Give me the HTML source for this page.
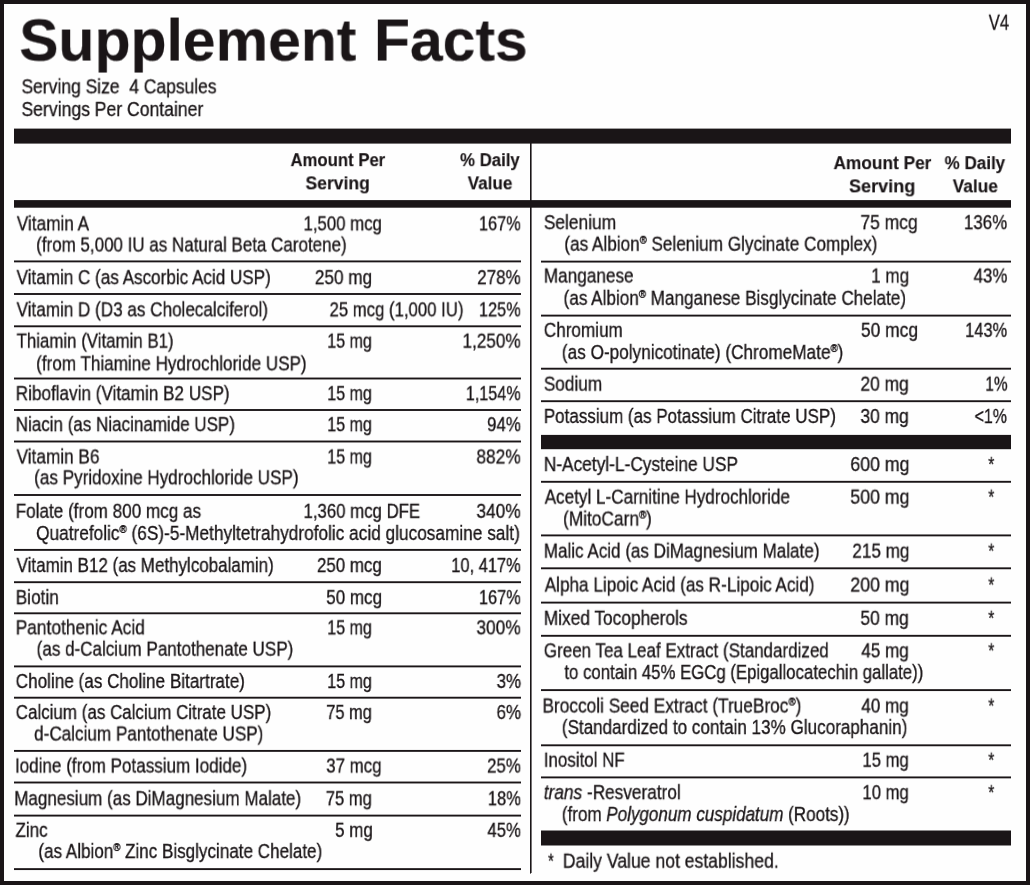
<!DOCTYPE html>
<html><head><meta charset="utf-8"><title>Supplement Facts</title>
<style>
html,body{margin:0;padding:0;background:#fefefe;}
body{width:1030px;height:885px;position:relative;overflow:hidden;
 font-family:"Liberation Sans",sans-serif;color:#1a1517;}
.t{position:absolute;left:0;top:0;white-space:nowrap;transform-origin:0 0;display:block;will-change:transform;-webkit-text-stroke:0.3px #1a1517;}
.b{font-weight:bold;-webkit-text-stroke:0.15px #1a1517;}
.r{position:absolute;background:#1a1517;}
#w{position:absolute;left:0;top:0;width:1030px;height:885px;will-change:transform;background:#fefefe;}
sup{font-size:56%;vertical-align:baseline;position:relative;top:-0.64em;line-height:0;-webkit-text-stroke:0.45px #1a1517;}
i{font-style:italic;}
</style></head>
<body>
<div id="w">
<div class="r" style="left:0px;top:0px;width:1030px;height:4px"></div>
<div class="r" style="left:0px;top:881px;width:1030px;height:4px"></div>
<div class="r" style="left:0px;top:0px;width:4px;height:885px"></div>
<div class="r" style="left:1026px;top:0px;width:4px;height:885px"></div>
<div class="r" style="left:530px;top:143px;width:1px;height:730px"></div>
<div class="r" style="left:531px;top:143px;width:1px;height:730px;background:rgba(26,21,23,0.60)"></div>
<div class="r" style="left:14px;top:128px;width:997px;height:1px;opacity:0.40"></div><div class="r" style="left:14px;top:129px;width:997px;height:14px"></div><div class="r" style="left:14px;top:143px;width:997px;height:1px;opacity:0.60"></div>
<div class="r" style="left:14px;top:200px;width:997px;height:1px;opacity:0.90"></div><div class="r" style="left:14px;top:201px;width:997px;height:6px"></div><div class="r" style="left:14px;top:207px;width:997px;height:1px;opacity:0.70"></div>
<div class="r" style="left:541px;top:434px;width:470px;height:1px;opacity:0.10"></div><div class="r" style="left:541px;top:435px;width:470px;height:14px"></div><div class="r" style="left:541px;top:449px;width:470px;height:1px;opacity:0.20"></div>
<div class="r" style="left:541px;top:830px;width:470px;height:1px;opacity:0.50"></div><div class="r" style="left:541px;top:831px;width:470px;height:14px"></div><div class="r" style="left:541px;top:845px;width:470px;height:1px;opacity:0.50"></div>
<div class="r" style="left:530px;top:873px;width:1px;height:1px;opacity:0.60"></div>
<div class="r" style="left:14px;top:260px;width:507px;height:1px;opacity:0.55"></div><div class="r" style="left:14px;top:261px;width:507px;height:1px"></div><div class="r" style="left:14px;top:262px;width:507px;height:1px;opacity:0.35"></div>
<div class="r" style="left:14px;top:293px;width:507px;height:1px;opacity:0.95"></div><div class="r" style="left:14px;top:294px;width:507px;height:1px;opacity:0.95"></div>
<div class="r" style="left:14px;top:325px;width:507px;height:1px;opacity:0.65"></div><div class="r" style="left:14px;top:326px;width:507px;height:1px"></div><div class="r" style="left:14px;top:327px;width:507px;height:1px;opacity:0.25"></div>
<div class="r" style="left:14px;top:377px;width:507px;height:1px;opacity:0.45"></div><div class="r" style="left:14px;top:378px;width:507px;height:1px"></div><div class="r" style="left:14px;top:379px;width:507px;height:1px;opacity:0.45"></div>
<div class="r" style="left:14px;top:409px;width:507px;height:1px;opacity:0.95"></div><div class="r" style="left:14px;top:410px;width:507px;height:1px;opacity:0.95"></div>
<div class="r" style="left:14px;top:440px;width:507px;height:1px;opacity:0.45"></div><div class="r" style="left:14px;top:441px;width:507px;height:1px"></div><div class="r" style="left:14px;top:442px;width:507px;height:1px;opacity:0.45"></div>
<div class="r" style="left:14px;top:494px;width:507px;height:1px;opacity:0.95"></div><div class="r" style="left:14px;top:495px;width:507px;height:1px;opacity:0.95"></div>
<div class="r" style="left:14px;top:548px;width:507px;height:1px;opacity:0.05"></div><div class="r" style="left:14px;top:549px;width:507px;height:1px"></div><div class="r" style="left:14px;top:550px;width:507px;height:1px;opacity:0.85"></div>
<div class="r" style="left:14px;top:581px;width:507px;height:1px;opacity:0.75"></div><div class="r" style="left:14px;top:582px;width:507px;height:1px"></div><div class="r" style="left:14px;top:583px;width:507px;height:1px;opacity:0.15"></div>
<div class="r" style="left:14px;top:612px;width:507px;height:1px;opacity:0.65"></div><div class="r" style="left:14px;top:613px;width:507px;height:1px"></div><div class="r" style="left:14px;top:614px;width:507px;height:1px;opacity:0.25"></div>
<div class="r" style="left:14px;top:665px;width:507px;height:1px;opacity:0.55"></div><div class="r" style="left:14px;top:666px;width:507px;height:1px"></div><div class="r" style="left:14px;top:667px;width:507px;height:1px;opacity:0.35"></div>
<div class="r" style="left:14px;top:696px;width:507px;height:1px;opacity:0.25"></div><div class="r" style="left:14px;top:697px;width:507px;height:1px"></div><div class="r" style="left:14px;top:698px;width:507px;height:1px;opacity:0.65"></div>
<div class="r" style="left:14px;top:749px;width:507px;height:1px;opacity:0.05"></div><div class="r" style="left:14px;top:750px;width:507px;height:1px"></div><div class="r" style="left:14px;top:751px;width:507px;height:1px;opacity:0.85"></div>
<div class="r" style="left:14px;top:781px;width:507px;height:1px;opacity:0.45"></div><div class="r" style="left:14px;top:782px;width:507px;height:1px"></div><div class="r" style="left:14px;top:783px;width:507px;height:1px;opacity:0.45"></div>
<div class="r" style="left:14px;top:814px;width:507px;height:1px;opacity:0.35"></div><div class="r" style="left:14px;top:815px;width:507px;height:1px"></div><div class="r" style="left:14px;top:816px;width:507px;height:1px;opacity:0.55"></div>
<div class="r" style="left:14px;top:868px;width:507px;height:1px;opacity:0.85"></div><div class="r" style="left:14px;top:869px;width:507px;height:1px"></div><div class="r" style="left:14px;top:870px;width:507px;height:1px;opacity:0.05"></div>
<div class="r" style="left:541px;top:260px;width:470px;height:1px;opacity:0.35"></div><div class="r" style="left:541px;top:261px;width:470px;height:1px"></div><div class="r" style="left:541px;top:262px;width:470px;height:1px;opacity:0.55"></div>
<div class="r" style="left:541px;top:314px;width:470px;height:1px;opacity:0.35"></div><div class="r" style="left:541px;top:315px;width:470px;height:1px"></div><div class="r" style="left:541px;top:316px;width:470px;height:1px;opacity:0.55"></div>
<div class="r" style="left:541px;top:367px;width:470px;height:1px;opacity:0.25"></div><div class="r" style="left:541px;top:368px;width:470px;height:1px"></div><div class="r" style="left:541px;top:369px;width:470px;height:1px;opacity:0.65"></div>
<div class="r" style="left:541px;top:400px;width:470px;height:1px;opacity:0.75"></div><div class="r" style="left:541px;top:401px;width:470px;height:1px"></div><div class="r" style="left:541px;top:402px;width:470px;height:1px;opacity:0.15"></div>
<div class="r" style="left:541px;top:480px;width:470px;height:1px;opacity:0.15"></div><div class="r" style="left:541px;top:481px;width:470px;height:1px"></div><div class="r" style="left:541px;top:482px;width:470px;height:1px;opacity:0.75"></div>
<div class="r" style="left:541px;top:534px;width:470px;height:1px;opacity:0.55"></div><div class="r" style="left:541px;top:535px;width:470px;height:1px"></div><div class="r" style="left:541px;top:536px;width:470px;height:1px;opacity:0.35"></div>
<div class="r" style="left:541px;top:567px;width:470px;height:1px;opacity:0.65"></div><div class="r" style="left:541px;top:568px;width:470px;height:1px"></div><div class="r" style="left:541px;top:569px;width:470px;height:1px;opacity:0.25"></div>
<div class="r" style="left:541px;top:601px;width:470px;height:1px;opacity:0.35"></div><div class="r" style="left:541px;top:602px;width:470px;height:1px"></div><div class="r" style="left:541px;top:603px;width:470px;height:1px;opacity:0.55"></div>
<div class="r" style="left:541px;top:634px;width:470px;height:1px;opacity:0.15"></div><div class="r" style="left:541px;top:635px;width:470px;height:1px"></div><div class="r" style="left:541px;top:636px;width:470px;height:1px;opacity:0.75"></div>
<div class="r" style="left:541px;top:689px;width:470px;height:1px;opacity:0.85"></div><div class="r" style="left:541px;top:690px;width:470px;height:1px"></div><div class="r" style="left:541px;top:691px;width:470px;height:1px;opacity:0.05"></div>
<div class="r" style="left:541px;top:744px;width:470px;height:1px;opacity:0.65"></div><div class="r" style="left:541px;top:745px;width:470px;height:1px"></div><div class="r" style="left:541px;top:746px;width:470px;height:1px;opacity:0.25"></div>
<div class="r" style="left:541px;top:776px;width:470px;height:1px;opacity:0.55"></div><div class="r" style="left:541px;top:777px;width:470px;height:1px"></div><div class="r" style="left:541px;top:778px;width:470px;height:1px;opacity:0.35"></div>
<div class="t b" style="font-size:59.00px;line-height:71px;transform:translate(19.20px,5.55px) scaleX(0.9985)">Supplement</div>
<div class="t b" style="font-size:59.00px;line-height:71px;transform:translate(374.01px,5.55px) scaleX(0.9973)">Facts</div>
<div class="t" style="font-size:19.30px;line-height:23px;transform:translate(21.49px,75.35px) scaleX(0.9056)">Serving Size&nbsp; 4 Capsules</div>
<div class="t" style="font-size:19.30px;line-height:23px;transform:translate(21.49px,98.05px) scaleX(0.9116)">Servings Per Container</div>
<div class="t" style="font-size:22.50px;line-height:27px;transform:translate(988.70px,8.75px) scaleX(0.7407)">V4</div>
<div class="t b" style="font-size:18.80px;line-height:23px;transform:translate(290.50px,148.15px) scaleX(0.8896)">Amount Per</div>
<div class="t b" style="font-size:18.80px;line-height:23px;transform:translate(305.47px,171.35px) scaleX(0.9328)">Serving</div>
<div class="t b" style="font-size:18.80px;line-height:23px;transform:translate(460.00px,148.15px) scaleX(0.8940)">% Daily</div>
<div class="t b" style="font-size:18.80px;line-height:23px;transform:translate(467.70px,171.35px) scaleX(0.9082)">Value</div>
<div class="t b" style="font-size:18.80px;line-height:23px;transform:translate(833.50px,151.15px) scaleX(0.9198)">Amount Per</div>
<div class="t b" style="font-size:18.80px;line-height:23px;transform:translate(848.94px,174.35px) scaleX(0.9627)">Serving</div>
<div class="t b" style="font-size:18.80px;line-height:23px;transform:translate(944.60px,151.15px) scaleX(0.9060)">% Daily</div>
<div class="t b" style="font-size:18.80px;line-height:23px;transform:translate(952.70px,174.35px) scaleX(0.9184)">Value</div>
<div class="t" style="font-size:19.30px;line-height:23px;transform:translate(16.80px,212.35px) scaleX(0.8914)">Vitamin A</div>
<div class="t" style="font-size:19.30px;line-height:23px;transform:translate(303.53px,212.35px) scaleX(0.8705)">1,500 mcg</div>
<div class="t" style="font-size:19.30px;line-height:23px;transform:translate(478.96px,212.35px) scaleX(0.8438)">167%</div>
<div class="t" style="font-size:19.30px;line-height:23px;transform:translate(16.60px,266.15px) scaleX(0.8860)">Vitamin C (as Ascorbic Acid USP)</div>
<div class="t" style="font-size:19.30px;line-height:23px;transform:translate(314.81px,266.15px) scaleX(0.8919)">250 mg</div>
<div class="t" style="font-size:19.30px;line-height:23px;transform:translate(477.22px,266.15px) scaleX(0.8792)">278%</div>
<div class="t" style="font-size:19.30px;line-height:23px;transform:translate(16.60px,298.35px) scaleX(0.8862)">Vitamin D (D3 as Cholecalciferol)</div>
<div class="t" style="font-size:19.30px;line-height:23px;transform:translate(329.53px,298.35px) scaleX(0.8678)">25 mcg (1,000 IU)</div>
<div class="t" style="font-size:19.30px;line-height:23px;transform:translate(478.96px,298.35px) scaleX(0.8438)">125%</div>
<div class="t" style="font-size:19.30px;line-height:23px;transform:translate(16.60px,329.65px) scaleX(0.8737)">Thiamin (Vitamin B1)</div>
<div class="t" style="font-size:19.30px;line-height:23px;transform:translate(327.27px,329.65px) scaleX(0.8327)">15 mg</div>
<div class="t" style="font-size:19.30px;line-height:23px;transform:translate(462.51px,329.65px) scaleX(0.8891)">1,250%</div>
<div class="t" style="font-size:19.30px;line-height:23px;transform:translate(15.71px,382.15px) scaleX(0.8887)">Riboflavin (Vitamin B2 USP)</div>
<div class="t" style="font-size:19.30px;line-height:23px;transform:translate(327.27px,382.15px) scaleX(0.8327)">15 mg</div>
<div class="t" style="font-size:19.30px;line-height:23px;transform:translate(465.86px,382.15px) scaleX(0.8375)">1,154%</div>
<div class="t" style="font-size:19.30px;line-height:23px;transform:translate(15.72px,413.15px) scaleX(0.8818)">Niacin (as Niacinamide USP)</div>
<div class="t" style="font-size:19.30px;line-height:23px;transform:translate(327.27px,413.15px) scaleX(0.8327)">15 mg</div>
<div class="t" style="font-size:19.30px;line-height:23px;transform:translate(487.02px,413.15px) scaleX(0.8757)">94%</div>
<div class="t" style="font-size:19.30px;line-height:23px;transform:translate(16.60px,445.45px) scaleX(0.8913)">Vitamin B6</div>
<div class="t" style="font-size:19.30px;line-height:23px;transform:translate(327.27px,445.45px) scaleX(0.8327)">15 mg</div>
<div class="t" style="font-size:19.30px;line-height:23px;transform:translate(476.40px,445.45px) scaleX(0.8958)">882%</div>
<div class="t" style="font-size:19.30px;line-height:23px;transform:translate(15.71px,499.85px) scaleX(0.8874)">Folate (from 800 mcg as</div>
<div class="t" style="font-size:19.30px;line-height:23px;transform:translate(303.53px,499.85px) scaleX(0.8705)">1,360 mcg DFE</div>
<div class="t" style="font-size:19.30px;line-height:23px;transform:translate(476.40px,499.85px) scaleX(0.8958)">340%</div>
<div class="t" style="font-size:19.30px;line-height:23px;transform:translate(16.60px,554.05px) scaleX(0.8801)">Vitamin B12 (as Methylcobalamin)</div>
<div class="t" style="font-size:19.30px;line-height:23px;transform:translate(316.92px,554.05px) scaleX(0.8778)">250 mcg</div>
<div class="t" style="font-size:19.30px;line-height:23px;transform:translate(451.25px,554.05px) scaleX(0.8525)">10, 417%</div>
<div class="t" style="font-size:19.30px;line-height:23px;transform:translate(15.71px,586.15px) scaleX(0.8935)">Biotin</div>
<div class="t" style="font-size:19.30px;line-height:23px;transform:translate(326.22px,586.15px) scaleX(0.8836)">50 mcg</div>
<div class="t" style="font-size:19.30px;line-height:23px;transform:translate(478.96px,586.15px) scaleX(0.8438)">167%</div>
<div class="t" style="font-size:19.30px;line-height:23px;transform:translate(15.70px,616.35px) scaleX(0.8986)">Pantothenic Acid</div>
<div class="t" style="font-size:19.30px;line-height:23px;transform:translate(327.27px,616.35px) scaleX(0.8327)">15 mg</div>
<div class="t" style="font-size:19.30px;line-height:23px;transform:translate(476.40px,616.35px) scaleX(0.8958)">300%</div>
<div class="t" style="font-size:19.30px;line-height:23px;transform:translate(15.71px,669.95px) scaleX(0.8875)">Choline (as Choline Bitartrate)</div>
<div class="t" style="font-size:19.30px;line-height:23px;transform:translate(327.27px,669.95px) scaleX(0.8327)">15 mg</div>
<div class="t" style="font-size:19.30px;line-height:23px;transform:translate(496.62px,669.95px) scaleX(0.8769)">3%</div>
<div class="t" style="font-size:19.30px;line-height:23px;transform:translate(15.72px,701.05px) scaleX(0.8799)">Calcium (as Calcium Citrate USP)</div>
<div class="t" style="font-size:19.30px;line-height:23px;transform:translate(326.25px,701.05px) scaleX(0.8519)">75 mg</div>
<div class="t" style="font-size:19.30px;line-height:23px;transform:translate(496.52px,701.05px) scaleX(0.8808)">6%</div>
<div class="t" style="font-size:19.30px;line-height:23px;transform:translate(15.02px,754.55px) scaleX(0.8835)">Iodine (from Potassium Iodide)</div>
<div class="t" style="font-size:19.30px;line-height:23px;transform:translate(326.22px,754.55px) scaleX(0.8754)">37 mcg</div>
<div class="t" style="font-size:19.30px;line-height:23px;transform:translate(487.02px,754.55px) scaleX(0.8757)">25%</div>
<div class="t" style="font-size:19.30px;line-height:23px;transform:translate(14.22px,787.25px) scaleX(0.8836)">Magnesium (as DiMagnesium Malate)</div>
<div class="t" style="font-size:19.30px;line-height:23px;transform:translate(325.74px,787.25px) scaleX(0.8615)">75 mg</div>
<div class="t" style="font-size:19.30px;line-height:23px;transform:translate(487.85px,787.25px) scaleX(0.8541)">18%</div>
<div class="t" style="font-size:19.30px;line-height:23px;transform:translate(15.50px,818.85px) scaleX(0.8833)">Zinc</div>
<div class="t" style="font-size:19.30px;line-height:23px;transform:translate(335.12px,818.85px) scaleX(0.8780)">5 mg</div>
<div class="t" style="font-size:19.30px;line-height:23px;transform:translate(487.40px,818.85px) scaleX(0.8658)">45%</div>
<div class="t" style="font-size:19.30px;line-height:23px;transform:translate(36.12px,233.55px) scaleX(0.8806)">(from 5,000 IU as Natural Beta Carotene)</div>
<div class="t" style="font-size:19.30px;line-height:23px;transform:translate(36.11px,352.35px) scaleX(0.8868)">(from Thiamine Hydrochloride USP)</div>
<div class="t" style="font-size:19.30px;line-height:23px;transform:translate(34.11px,466.35px) scaleX(0.8878)">(as Pyridoxine Hydrochloride USP)</div>
<div class="t" style="font-size:19.30px;line-height:23px;transform:translate(36.11px,521.95px) scaleX(0.8948)">Quatrefolic<sup>&reg;</sup> (6S)-5-Methyltetrahydrofolic acid glucosamine salt)</div>
<div class="t" style="font-size:19.30px;line-height:23px;transform:translate(36.62px,637.75px) scaleX(0.8837)">(as d-Calcium Pantothenate USP)</div>
<div class="t" style="font-size:19.30px;line-height:23px;transform:translate(34.11px,722.55px) scaleX(0.8875)">d-Calcium Pantothenate USP)</div>
<div class="t" style="font-size:19.30px;line-height:23px;transform:translate(38.32px,840.05px) scaleX(0.8846)">(as Albion<sup>&reg;</sup> Zinc Bisglycinate Chelate)</div>
<div class="t" style="font-size:19.30px;line-height:23px;transform:translate(543.80px,211.15px) scaleX(0.9013)">Selenium</div>
<div class="t" style="font-size:19.30px;line-height:23px;transform:translate(860.39px,211.15px) scaleX(0.9066)">75 mcg</div>
<div class="t" style="font-size:19.30px;line-height:23px;transform:translate(963.92px,211.15px) scaleX(0.8750)">136%</div>
<div class="t" style="font-size:19.30px;line-height:23px;transform:translate(543.81px,264.55px) scaleX(0.8909)">Manganese</div>
<div class="t" style="font-size:19.30px;line-height:23px;transform:translate(871.22px,264.55px) scaleX(0.8829)">1 mg</div>
<div class="t" style="font-size:19.30px;line-height:23px;transform:translate(973.60px,264.55px) scaleX(0.8737)">43%</div>
<div class="t" style="font-size:19.30px;line-height:23px;transform:translate(543.81px,318.85px) scaleX(0.8885)">Chromium</div>
<div class="t" style="font-size:19.30px;line-height:23px;transform:translate(860.90px,318.85px) scaleX(0.9049)">50 mcg</div>
<div class="t" style="font-size:19.30px;line-height:23px;transform:translate(965.15px,318.85px) scaleX(0.8500)">143%</div>
<div class="t" style="font-size:19.30px;line-height:23px;transform:translate(543.81px,372.65px) scaleX(0.8937)">Sodium</div>
<div class="t" style="font-size:19.30px;line-height:23px;transform:translate(860.40px,372.65px) scaleX(0.9038)">20 mg</div>
<div class="t" style="font-size:19.30px;line-height:23px;transform:translate(985.41px,372.65px) scaleX(0.7923)">1%</div>
<div class="t" style="font-size:19.30px;line-height:23px;transform:translate(543.82px,404.95px) scaleX(0.8821)">Potassium (as Potassium Citrate USP)</div>
<div class="t" style="font-size:19.30px;line-height:23px;transform:translate(860.40px,404.95px) scaleX(0.9038)">30 mg</div>
<div class="t" style="font-size:19.30px;line-height:23px;transform:translate(974.57px,404.95px) scaleX(0.8263)">&lt;1%</div>
<div class="t" style="font-size:19.30px;line-height:23px;transform:translate(543.80px,453.05px) scaleX(0.8972)">N-Acetyl-L-Cysteine USP</div>
<div class="t" style="font-size:19.30px;line-height:23px;transform:translate(850.28px,453.05px) scaleX(0.9210)">600 mg</div>
<div class="t" style="font-size:19.30px;line-height:23px;transform:translate(988.20px,453.05px) scaleX(0.8143)">*</div>
<div class="t" style="font-size:19.30px;line-height:23px;transform:translate(544.70px,485.65px) scaleX(0.8870)">Acetyl L-Carnitine Hydrochloride</div>
<div class="t" style="font-size:19.30px;line-height:23px;transform:translate(850.28px,485.65px) scaleX(0.9210)">500 mg</div>
<div class="t" style="font-size:19.30px;line-height:23px;transform:translate(988.20px,485.65px) scaleX(0.8143)">*</div>
<div class="t" style="font-size:19.30px;line-height:23px;transform:translate(543.82px,539.65px) scaleX(0.8839)">Malic Acid (as DiMagnesium Malate)</div>
<div class="t" style="font-size:19.30px;line-height:23px;transform:translate(852.31px,539.65px) scaleX(0.8887)">215 mg</div>
<div class="t" style="font-size:19.30px;line-height:23px;transform:translate(988.20px,539.65px) scaleX(0.8143)">*</div>
<div class="t" style="font-size:19.30px;line-height:23px;transform:translate(544.70px,573.55px) scaleX(0.8897)">Alpha Lipoic Acid (as R-Lipoic Acid)</div>
<div class="t" style="font-size:19.30px;line-height:23px;transform:translate(850.28px,573.55px) scaleX(0.9210)">200 mg</div>
<div class="t" style="font-size:19.30px;line-height:23px;transform:translate(988.20px,573.55px) scaleX(0.8143)">*</div>
<div class="t" style="font-size:19.30px;line-height:23px;transform:translate(543.80px,606.85px) scaleX(0.8962)">Mixed Tocopherols</div>
<div class="t" style="font-size:19.30px;line-height:23px;transform:translate(860.40px,606.85px) scaleX(0.9038)">50 mg</div>
<div class="t" style="font-size:19.30px;line-height:23px;transform:translate(988.20px,606.85px) scaleX(0.8143)">*</div>
<div class="t" style="font-size:19.30px;line-height:23px;transform:translate(543.82px,639.35px) scaleX(0.8813)">Green Tea Leaf Extract (Standardized</div>
<div class="t" style="font-size:19.30px;line-height:23px;transform:translate(861.30px,639.35px) scaleX(0.8868)">45 mg</div>
<div class="t" style="font-size:19.30px;line-height:23px;transform:translate(988.20px,639.35px) scaleX(0.8143)">*</div>
<div class="t" style="font-size:19.30px;line-height:23px;transform:translate(542.50px,694.55px) scaleX(0.8951)">Broccoli Seed Extract (TrueBroc<sup>&reg;</sup>)</div>
<div class="t" style="font-size:19.30px;line-height:23px;transform:translate(861.30px,694.55px) scaleX(0.8868)">40 mg</div>
<div class="t" style="font-size:19.30px;line-height:23px;transform:translate(988.20px,694.55px) scaleX(0.8143)">*</div>
<div class="t" style="font-size:19.30px;line-height:23px;transform:translate(543.82px,748.75px) scaleX(0.8780)">Inositol NF</div>
<div class="t" style="font-size:19.30px;line-height:23px;transform:translate(862.43px,748.75px) scaleX(0.8654)">15 mg</div>
<div class="t" style="font-size:19.30px;line-height:23px;transform:translate(988.20px,748.75px) scaleX(0.8143)">*</div>
<div class="t" style="font-size:19.30px;line-height:23px;transform:translate(543.81px,781.15px) scaleX(0.8934)"><i>trans</i> -Resveratrol</div>
<div class="t" style="font-size:19.30px;line-height:23px;transform:translate(862.43px,781.15px) scaleX(0.8654)">10 mg</div>
<div class="t" style="font-size:19.30px;line-height:23px;transform:translate(988.20px,781.15px) scaleX(0.8143)">*</div>
<div class="t" style="font-size:19.30px;line-height:23px;transform:translate(564.31px,232.75px) scaleX(0.8894)">(as Albion<sup>&reg;</sup> Selenium Glycinate Complex)</div>
<div class="t" style="font-size:19.30px;line-height:23px;transform:translate(563.51px,286.85px) scaleX(0.8893)">(as Albion<sup>&reg;</sup> Manganese Bisglycinate Chelate)</div>
<div class="t" style="font-size:19.30px;line-height:23px;transform:translate(561.81px,341.05px) scaleX(0.8923)">(as O-polynicotinate) (ChromeMate<sup>&reg;</sup>)</div>
<div class="t" style="font-size:19.30px;line-height:23px;transform:translate(563.00px,507.55px) scaleX(0.8979)">(MitoCarn<sup>&reg;</sup>)</div>
<div class="t" style="font-size:19.30px;line-height:23px;transform:translate(564.40px,661.05px) scaleX(0.8697)">to contain 45% EGCg (Epigallocatechin gallate))</div>
<div class="t" style="font-size:19.30px;line-height:23px;transform:translate(561.81px,716.05px) scaleX(0.8856)">(Standardized to contain 13% Glucoraphanin)</div>
<div class="t" style="font-size:19.30px;line-height:23px;transform:translate(561.82px,803.05px) scaleX(0.8836)">(from <i>Polygonum cuspidatum</i> (Roots))</div>
<div class="t" style="font-size:19.30px;line-height:23px;transform:translate(548.00px,849.75px) scaleX(0.7714)">*</div>
<div class="t" style="font-size:19.30px;line-height:23px;transform:translate(562.79px,849.75px) scaleX(0.9128)">Daily Value not established.</div>
</div>
</body></html>
